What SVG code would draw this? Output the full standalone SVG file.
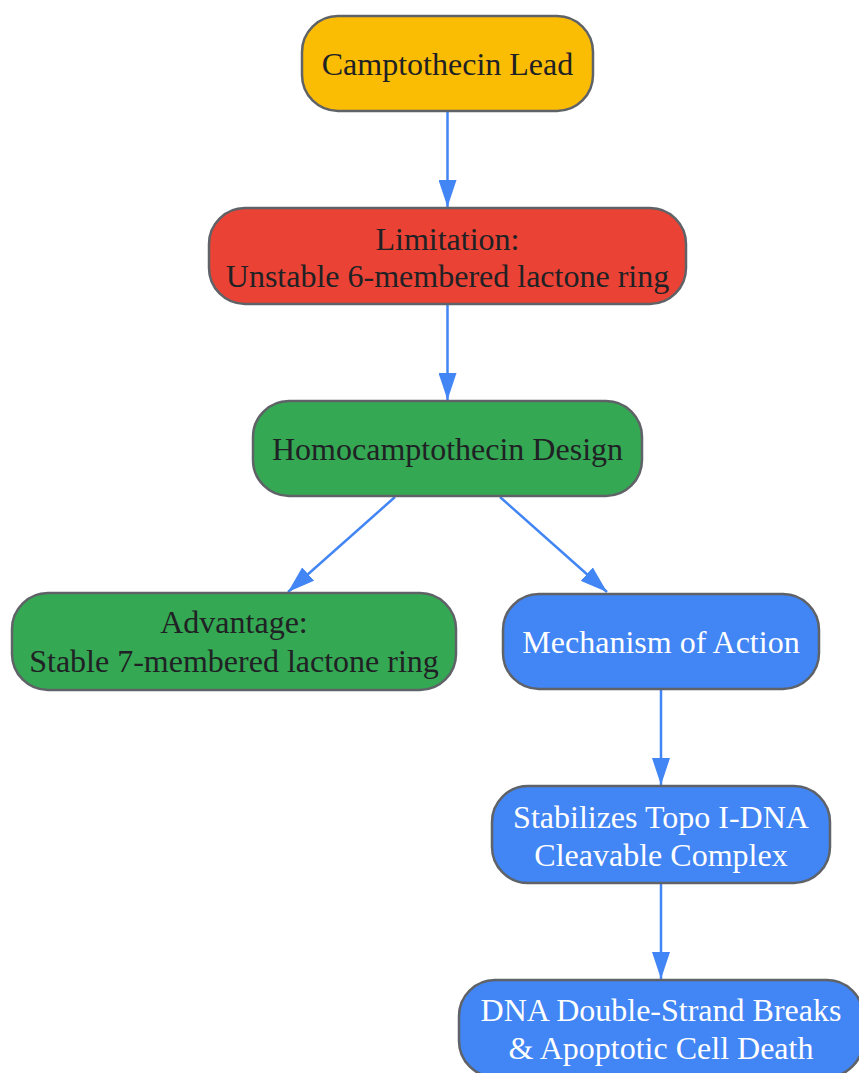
<svg xmlns="http://www.w3.org/2000/svg" width="859" height="1073" viewBox="0 0 859 1073">
<defs>
<style>
.node rect{stroke:#5f6368;stroke-width:2.5}
.t{font-family:"Liberation Serif","Times New Roman",serif;font-size:32px;text-anchor:middle;fill:#202124}
.w{fill:#ffffff}
.e{stroke:#4285F4;stroke-width:2.5;fill:none}
</style>
<marker id="a" viewBox="0 0 27 18" refX="27" refY="9" markerWidth="27" markerHeight="18" markerUnits="userSpaceOnUse" orient="auto">
<path d="M0,0 L27,9 L0,18 Z" fill="#4285F4"/>
</marker>
</defs>
<rect width="859" height="1073" fill="#ffffff"/>
<g id="connectors">
<path class="e" d="M447.5,111 L447.5,207" marker-end="url(#a)"/>
<path class="e" d="M447.5,304 L447.5,400" marker-end="url(#a)"/>
<path class="e" d="M395,497 L288,592" marker-end="url(#a)"/>
<path class="e" d="M500,497 L607,592" marker-end="url(#a)"/>
<path class="e" d="M661,689 L661,785" marker-end="url(#a)"/>
<path class="e" d="M661,883 L661,979" marker-end="url(#a)"/>
</g>
<g id="n1" class="node">
<rect x="302" y="16" width="291" height="95" rx="36" fill="#FBBC04"/>
<text class="t" x="447.5" y="75">Camptothecin Lead</text>
</g>
<g id="n2" class="node">
<rect x="209" y="208" width="477" height="96" rx="36" fill="#EA4335"/>
<text class="t" x="447.5" y="250">Limitation:</text>
<text class="t" x="447.5" y="287">Unstable 6-membered lactone ring</text>
</g>
<g id="n3" class="node">
<rect x="253" y="401" width="389" height="95" rx="36" fill="#34A853"/>
<text class="t" x="447.5" y="460">Homocamptothecin Design</text>
</g>
<g id="n4" class="node">
<rect x="12" y="593" width="444" height="97" rx="36" fill="#34A853"/>
<text class="t" x="234" y="633">Advantage:</text>
<text class="t" x="234" y="672">Stable 7-membered lactone ring</text>
</g>
<g id="n5" class="node">
<rect x="503" y="594" width="316" height="95" rx="36" fill="#4285F4"/>
<text class="t w" x="661" y="653">Mechanism of Action</text>
</g>
<g id="n6" class="node">
<rect x="492" y="786" width="338" height="97" rx="36" fill="#4285F4"/>
<text class="t w" x="661" y="828">Stabilizes Topo I-DNA</text>
<text class="t w" x="661" y="866">Cleavable Complex</text>
</g>
<g id="n7" class="node">
<rect x="459" y="980" width="404" height="97" rx="36" fill="#4285F4"/>
<text class="t w" x="661" y="1021">DNA Double-Strand Breaks</text>
<text class="t w" x="661" y="1059">&amp; Apoptotic Cell Death</text>
</g>
</svg>
